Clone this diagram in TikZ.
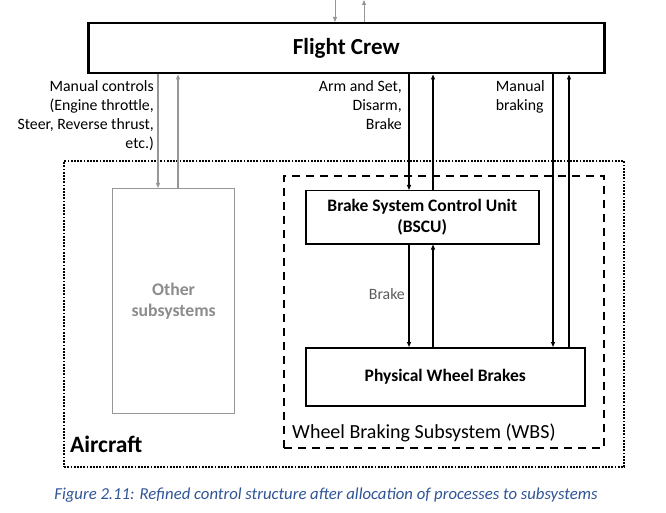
\documentclass[tikz,border=0pt]{standalone}
\usepackage{fontspec}
\setmainfont{Carlito}
\usetikzlibrary{arrows.meta}
\definecolor{capblue}{RGB}{47,84,150}
\definecolor{lgrey}{RGB}{150,150,150}
\definecolor{tgrey}{RGB}{140,140,140}
\definecolor{dgrey}{RGB}{90,90,90}
\begin{document}
\begin{tikzpicture}[x=1pt,y=-1pt,
  box/.style={draw, line width=1.5pt, inner sep=0pt, anchor=north west},
  arr/.style={-{Triangle[length=5pt,width=4pt]}, line width=1.1pt},
  garr/.style={arr, draw=lgrey, color=lgrey},
  lbl/.style={inner sep=0pt, align=right, anchor=north east, font=\fontsize{15.8}{19}\selectfont},
]
\useasboundingbox (0,0) rectangle (666,513);
% containers
\node[draw, line width=2.2pt, dash pattern=on 1.8pt off 1.4pt, inner sep=0pt, anchor=north west, minimum width=560pt, minimum height=306pt] (air) at (63,160) {};
\node[draw, line width=2pt, dash pattern=on 8pt off 6pt, inner sep=0pt, anchor=north west, minimum width=320pt, minimum height=272pt] (wbs) at (283,175) {};
\node[anchor=base west, inner sep=0pt, font=\fontsize{23.5}{26}\bfseries\selectfont] (airl) at (70,452) {Aircraft};
\node[anchor=base west, inner sep=0pt, font=\fontsize{20}{22}\selectfont] (wbsl) at (292,438) {Wheel Braking Subsystem (WBS)};
% boxes
\node[box, line width=2.5pt, minimum width=516pt, minimum height=50pt] (fc) at (87,22) {};
\node[font=\fontsize{23}{26}\bfseries\selectfont] (fct) at (fc.center) {Flight Crew};
\node[box, draw=lgrey, line width=1.2pt, minimum width=122pt, minimum height=225pt] (oth) at (112,188) {};
\node[align=center, text=tgrey, font=\fontsize{17.7}{21}\bfseries\selectfont] (otht) at (oth.center) {Other\\subsystems};
\node[box, minimum width=233pt, minimum height=53pt] (bscu) at (305,190) {};
\node[align=center, font=\fontsize{17.5}{21}\bfseries\selectfont] (bscut) at (bscu.center) {Brake System Control Unit\\(BSCU)};
\node[box, minimum width=279pt, minimum height=58pt] (pwb) at (305,347) {};
\node[font=\fontsize{17.5}{20}\bfseries\selectfont] (pwbt) at (pwb.center) {Physical Wheel Brakes};
% x positions of connectors
\coordinate (x1) at (158,0);
\coordinate (x2) at (178,0);
\coordinate (x3) at (409,0);
\coordinate (x4) at (433,0);
\coordinate (x5) at (553,0);
\coordinate (x6) at (569,0);
\coordinate (t1) at (335,0);
\coordinate (t2) at (364,0);
% top arrows
\draw[garr, line width=0.9pt] (t1) -- (fc.north -| t1);
\draw[garr, line width=0.9pt] (fc.north -| t2) -- (t2);
% connectors
\draw[garr] (fc.south -| x1) -- (oth.north -| x1);
\draw[garr] (oth.north -| x2) -- (fc.south -| x2);
\draw[arr] (fc.south -| x3) -- (bscu.north -| x3);
\draw[arr] (bscu.north -| x4) -- (fc.south -| x4);
\draw[arr] (fc.south -| x5) -- (pwb.north -| x5);
\draw[arr] (pwb.north -| x6) -- (fc.south -| x6);
\draw[arr] (bscu.south -| x3) -- (pwb.north -| x3);
\draw[arr] (pwb.north -| x4) -- (bscu.south -| x4);
% labels
\node[lbl] (l1) at (154,80) {Manual controls\\(Engine throttle,\\Steer, Reverse thrust,\\etc.)};
\node[lbl] (l2) at (402,80) {Arm and Set,\\Disarm,\\Brake};
\node[lbl, align=left] (l3) at (545,80) {Manual\\braking};
\node[lbl, text=dgrey] (l4) at (405,288) {Brake};
% caption
\node[font=\fontsize{16.7}{19}\itshape\selectfont, text=capblue] (cap) at (326,495) {Figure 2.11: Refined control structure after allocation of processes to subsystems};
\end{tikzpicture}
\end{document}
